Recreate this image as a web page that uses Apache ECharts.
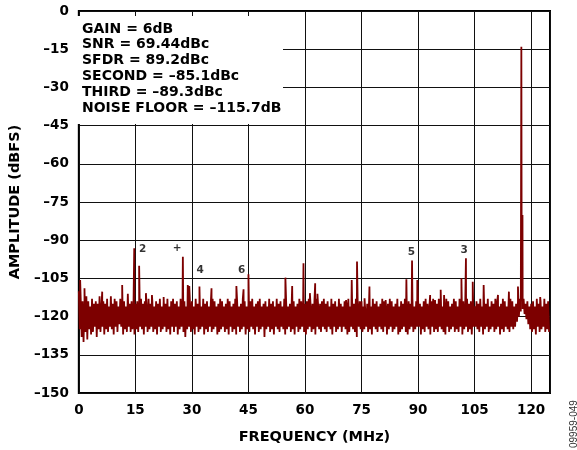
<!DOCTYPE html>
<html>
<head>
<meta charset="utf-8">
<script src="https://cdn.jsdelivr.net/npm/echarts@6/dist/echarts.min.js"></script>
<style>
	html,body{margin:0;padding:0;background:#fff;}
	#fftChart{width:577px;height:450px;}
</style>
</head>
<body>
<div id="fftChart"></div>
<script>
	// FFT noise floor, one value every 0.25 MHz (0 .. 124.75 MHz)
	var noiseStep = 0.25;
	var noiseFloor = [
		-110,-125,-113,-128,-114,-130,-115,-126,-112,-129,-114,-125,-116,-127,-113,-126,-115,-124,-114,-128,
		-115,-125,-112,-126,-116,-124,-114,-127,-115,-125,-113,-126,-116,-124,-112,-125,-115,-127,-113,-124,
		-114,-126,-116,-123,-113,-124,-115,-127,-114,-125,-116,-126,-111,-124,-115,-126,-114,-125,-116,-127,
		-115,-125,-114,-126,-116,-124,-113,-125,-115,-127,-114,-124,-116,-126,-113,-125,-115,-124,-114,-126,
		-116,-125,-114,-127,-115,-124,-113,-126,-116,-125,-114,-124,-115,-126,-113,-125,-116,-127,-114,-124,
		-113,-126,-115,-124,-114,-127,-116,-125,-113,-124,-115,-126,-114,-128,-116,-125,-113,-124,-115,-126,
		-114,-125,-116,-127,-113,-124,-115,-126,-114,-125,-116,-124,-113,-127,-115,-125,-114,-126,-116,-124,
		-115,-126,-113,-125,-114,-124,-116,-127,-115,-126,-113,-125,-114,-124,-116,-126,-115,-125,-113,-127,
		-114,-124,-116,-126,-115,-125,-113,-127,-114,-124,-116,-126,-115,-125,-113,-124,-114,-127,-116,-125,
		-115,-126,-114,-124,-113,-125,-116,-127,-115,-124,-114,-126,-113,-125,-116,-124,-115,-128,-114,-125,
		-116,-124,-113,-126,-115,-125,-114,-127,-116,-124,-113,-125,-115,-126,-114,-124,-116,-125,-113,-127,
		-114,-125,-116,-124,-115,-126,-113,-125,-114,-127,-116,-124,-115,-126,-113,-125,-114,-124,-116,-126,
		-115,-127,-114,-125,-113,-124,-116,-126,-115,-125,-114,-127,-113,-124,-116,-125,-115,-126,-114,-124,
		-113,-125,-115,-126,-114,-124,-116,-125,-113,-127,-115,-124,-114,-126,-116,-125,-113,-124,-115,-126,
		-116,-124,-114,-125,-115,-127,-113,-126,-116,-124,-114,-125,-115,-126,-113,-128,-116,-124,-114,-125,
		-114,-126,-116,-125,-113,-124,-115,-126,-114,-125,-116,-127,-113,-124,-115,-125,-114,-126,-116,-124,
		-115,-125,-113,-126,-114,-124,-116,-127,-115,-125,-113,-124,-114,-126,-116,-125,-115,-124,-113,-127,
		-116,-126,-114,-125,-115,-124,-113,-126,-116,-127,-114,-125,-115,-124,-113,-126,-116,-125,-114,-124,
		-113,-124,-115,-127,-116,-125,-114,-126,-113,-124,-115,-125,-116,-127,-114,-124,-113,-126,-115,-125,
		-115,-126,-113,-124,-114,-125,-116,-126,-115,-127,-113,-124,-114,-126,-116,-125,-115,-124,-113,-126,
		-114,-125,-116,-126,-113,-124,-115,-127,-114,-125,-116,-124,-113,-126,-115,-125,-114,-127,-116,-124,
		-116,-124,-114,-125,-115,-126,-113,-124,-116,-127,-114,-125,-115,-124,-113,-126,-116,-125,-114,-124,
		-115,-126,-113,-125,-114,-124,-116,-127,-115,-125,-113,-126,-114,-124,-116,-125,-115,-126,-113,-124,
		-114,-125,-116,-124,-115,-122,-114,-120,-113,-118,-114,-117,-113,-119,-115,-121,-114,-123,-116,-125,
		-115,-126,-114,-125,-116,-127,-113,-124,-115,-126,-114,-125,-116,-124,-113,-126,-115,-125,-114,-126
	];

	// spurs + fundamental (MHz, dBFS)
	var spurFreq  = [0.35, 1.5, 6.2, 11.5, 14.7, 16.0, 17.8, 19.4, 22.5, 27.6, 28.9, 29.3, 32.0, 35.2,
		41.8, 43.7, 45.0, 54.8, 56.6, 59.6, 61.3, 62.7, 63.3, 70.9, 72.4, 73.8, 75.8, 77.1, 81.4,
		86.9, 88.4, 89.8, 93.2, 94.5, 96.0, 96.9, 101.5, 102.7, 104.5, 107.4, 111.2, 114.1, 116.5,
		117.4, 117.7, 120.5, 122.4];
	var spurLevel = [-105.6, -108.9, -110.2, -107.6, -93.2, -100, -110.8, -111.5, -112.3, -96.5, -107.6, -108, -108.2, -108.9,
		-108, -109.3, -103.4, -104.7, -108, -99.1, -110.8, -106.9, -111, -113.5, -105.6, -98.4, -112.8, -108.2, -113.5,
		-105.3, -98, -105.6, -111.5, -113.5, -109.5, -111.5, -104.9, -97.1, -106.3, -107.6, -111.5, -110.2, -108.2,
		-14, -80.1, -113.5, -112.3];

	// harmonic tags
	var spurTags  = ['2', '+', '4', '6', '5', '3'];
	var tagFreq   = [16.9, 26.1, 32.2, 43.2, 88.2, 102.2];
	var tagLevel  = [-93.6, -93.1, -101.7, -101.7, -94.9, -93.8];

	var infoLines = ['GAIN = 6dB', 'SNR = 69.44dBc', 'SFDR = 89.2dBc', 'SECOND = \u201385.1dBc', 'THIRD = \u201389.3dBc', 'NOISE FLOOR = \u2013115.7dB'];

	// build the trace: noise points with spurs slotted in by frequency
	var trace = noiseFloor.map(function(v, i){ return [i * noiseStep, v]; });
	spurFreq.forEach(function(f, i){ trace.push([f, spurLevel[i]]); });
	trace.sort(function(a, b){ return a[0] - b[0]; });

	var labelFont = { fontFamily: 'DejaVu Sans', fontWeight: 'bold', fontSize: 13.5, color: '#000' };

	var fftChart = echarts.init(document.getElementById('fftChart'));
	var fftChart_option = {
		animation: false,
		grid: {
			left: 72, right: 27, top: 11, bottom: 57,
			show: true, borderColor: '#000', borderWidth: 2
		},
		xAxis: {
			type: 'value', min: 0, max: 125, interval: 15,
			name: 'FREQUENCY (MHz)', nameLocation: 'middle', nameGap: 37,
			nameTextStyle: { fontFamily: 'DejaVu Sans', fontWeight: 'bold', fontSize: 14.5, color: '#000' },
			axisLine: { show: false },
			axisTick: { show: false },
			axisLabel: Object.assign({ margin: 10, showMaxLabel: false }, labelFont),
			splitLine: { show: true, lineStyle: { color: '#111', width: 1 } }
		},
		yAxis: {
			type: 'value', min: -150, max: 0, interval: 15,
			name: 'AMPLITUDE (dBFS)', nameLocation: 'middle', nameGap: 48,
			nameTextStyle: { fontFamily: 'DejaVu Sans', fontWeight: 'bold', fontSize: 14.5, color: '#000' },
			axisLine: { show: false },
			axisTick: { show: false },
			axisLabel: Object.assign({
				margin: 10,
				formatter: function(v){ return v === 0 ? '0' : '\u2013' + Math.abs(v); }
			}, labelFont),
			splitLine: { show: true, lineStyle: { color: '#111', width: 1 } }
		},
		series: [
			{
				name: 'FFT', type: 'line', data: trace,
				showSymbol: false, symbol: 'none', sampling: null,
				lineStyle: { color: '#7d0000', width: 1.8 },
				z: 3
			},
			{
				name: 'tags', type: 'scatter',
				data: tagFreq.map(function(f, i){ return { value: [f, tagLevel[i]], name: spurTags[i] }; }),
				symbolSize: 0, itemStyle: { color: 'transparent' },
				label: { show: true, position: 'inside', formatter: '{b}',
					fontFamily: 'DejaVu Sans', fontWeight: 'bold', fontSize: 10.5, color: '#000',
					textBorderWidth: 0, textBorderColor: 'transparent' },
				z: 4
			}
		],
		graphic: [
			{ type: 'rect', left: 73, top: 16, z: 50,
				shape: { width: 210, height: 108 }, style: { fill: '#fff' } },
			{ type: 'text', left: 82, top: 21, z: 51,
				style: { text: infoLines.join('\n'), fontFamily: 'DejaVu Sans', fontWeight: 'bold',
					fontSize: 14, lineHeight: 15.8, fill: '#000' } },
			{ type: 'text', x: 569, y: 448, rotation: Math.PI / 2, z: 51,
				style: { text: '09959-049', fontFamily: 'Liberation Sans', fontSize: 10, fill: '#333',
					textVerticalAlign: 'top' } }
		]
	};
	fftChart.setOption(fftChart_option, true);
</script>
</body>
</html>
